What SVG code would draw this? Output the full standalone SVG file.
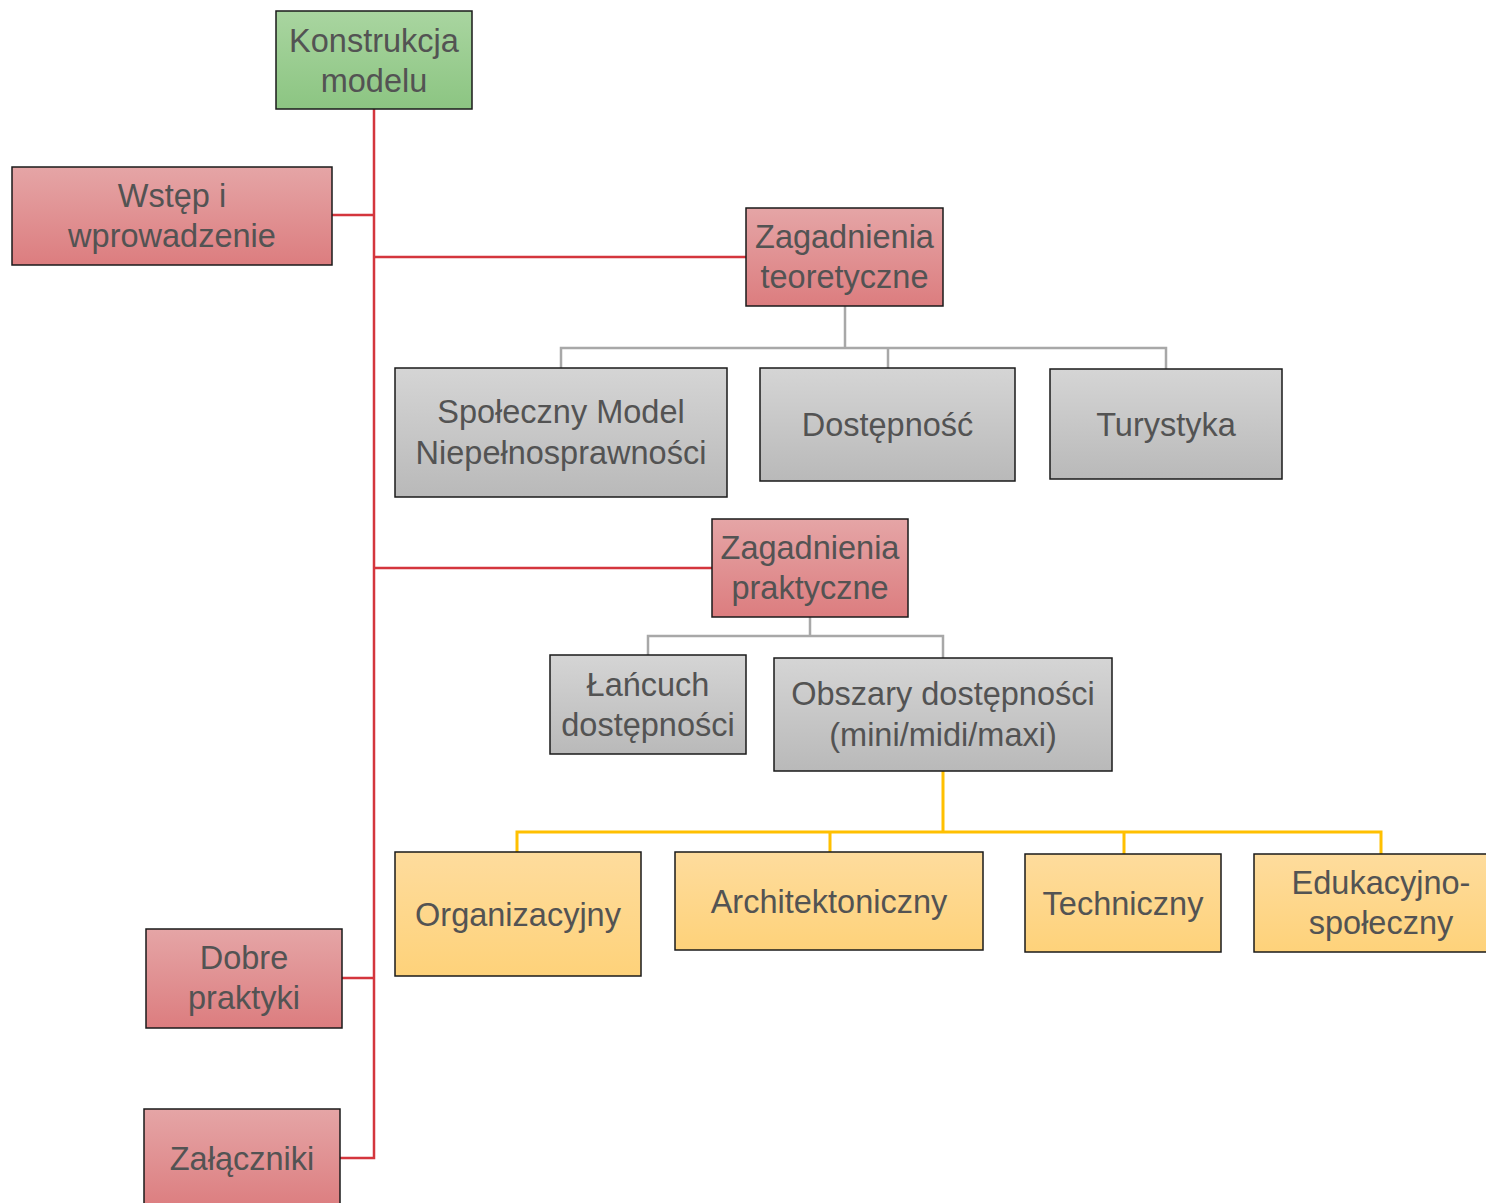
<svg xmlns="http://www.w3.org/2000/svg" width="1486" height="1203" viewBox="0 0 1486 1203">
<defs>
<linearGradient id="gGreen" x1="0" y1="0" x2="0" y2="1"><stop offset="0" stop-color="#a9d5a0"/><stop offset="1" stop-color="#8cc582"/></linearGradient>
<linearGradient id="gRed" x1="0" y1="0" x2="0" y2="1"><stop offset="0" stop-color="#e5a5a6"/><stop offset="1" stop-color="#dc7d7f"/></linearGradient>
<linearGradient id="gGray" x1="0" y1="0" x2="0" y2="1"><stop offset="0" stop-color="#d5d5d5"/><stop offset="1" stop-color="#b9b9b9"/></linearGradient>
<linearGradient id="gYel" x1="0" y1="0" x2="0" y2="1"><stop offset="0" stop-color="#fedc9d"/><stop offset="1" stop-color="#fed27a"/></linearGradient>
</defs>
<style>
rect{stroke:#1a1a1a;stroke-width:1.5}
.g{fill:url(#gGreen)} .r{fill:url(#gRed)} .s{fill:url(#gGray)} .y{fill:url(#gYel)}
text{font-family:"Liberation Sans","Open Sans",sans-serif;font-size:32.5px;fill:#535353;text-anchor:middle}
.cr{stroke:#d4363d;stroke-width:2.5;fill:none}
.cg{stroke:#a8a8a8;stroke-width:2.5;fill:none}
.cy{stroke:#ffc000;stroke-width:3;fill:none}
</style>
<rect width="1486" height="1203" fill="#ffffff" style="stroke:none"/>
<g id="connectors">
<path class="cr" d="M374 109 V1158 H340 M332 215 H374 M374 257 H746 M374 568 H712 M342 978 H374"/>
<path class="cg" d="M845 306 V348 M561 368 V348 H1166 V369 M888 348 V368"/>
<path class="cg" d="M810 617 V636 M648 655 V636 H943 V658"/>
<path class="cy" d="M943 771 V832 M517 852 V832 H1381 V854 M830 832 V852 M1124 832 V854"/>
</g>
<g id="n-konstrukcja"><rect class="g" x="276" y="11" width="196" height="98"/><text x="374" y="52">Konstrukcja</text><text x="374" y="92">modelu</text></g>
<g id="n-wstep"><rect class="r" x="12" y="167" width="320" height="98"/><text x="172" y="207">Wstęp i</text><text x="172" y="247">wprowadzenie</text></g>
<g id="n-teoretyczne"><rect class="r" x="746" y="208" width="197" height="98"/><text x="844.5" y="248">Zagadnienia</text><text x="844.5" y="288">teoretyczne</text></g>
<g id="n-spoleczny"><rect class="s" x="395" y="368" width="332" height="129"/><text x="561" y="423">Społeczny Model</text><text x="561" y="464">Niepełnosprawności</text></g>
<g id="n-dostepnosc"><rect class="s" x="760" y="368" width="255" height="113"/><text x="887.5" y="436">Dostępność</text></g>
<g id="n-turystyka"><rect class="s" x="1050" y="369" width="232" height="110"/><text x="1166" y="436">Turystyka</text></g>
<g id="n-praktyczne"><rect class="r" x="712" y="519" width="196" height="98"/><text x="810" y="559">Zagadnienia</text><text x="810" y="599">praktyczne</text></g>
<g id="n-lancuch"><rect class="s" x="550" y="655" width="196" height="99"/><text x="648" y="696">Łańcuch</text><text x="648" y="736">dostępności</text></g>
<g id="n-obszary"><rect class="s" x="774" y="658" width="338" height="113"/><text x="943" y="705">Obszary dostępności</text><text x="943" y="746">(mini/midi/maxi)</text></g>
<g id="n-organizacyjny"><rect class="y" x="395" y="852" width="246" height="124"/><text x="518" y="926">Organizacyjny</text></g>
<g id="n-architektoniczny"><rect class="y" x="675" y="852" width="308" height="98"/><text x="829" y="913">Architektoniczny</text></g>
<g id="n-techniczny"><rect class="y" x="1025" y="854" width="196" height="98"/><text x="1123" y="915">Techniczny</text></g>
<g id="n-edukacyjno"><rect class="y" x="1254" y="854" width="240" height="98"/><text x="1381" y="894">Edukacyjno-</text><text x="1381" y="934">społeczny</text></g>
<g id="n-dobre"><rect class="r" x="146" y="929" width="196" height="99"/><text x="244" y="969">Dobre</text><text x="244" y="1009">praktyki</text></g>
<g id="n-zalaczniki"><rect class="r" x="144" y="1109" width="196" height="100"/><text x="242" y="1170">Załączniki</text></g>
</svg>
